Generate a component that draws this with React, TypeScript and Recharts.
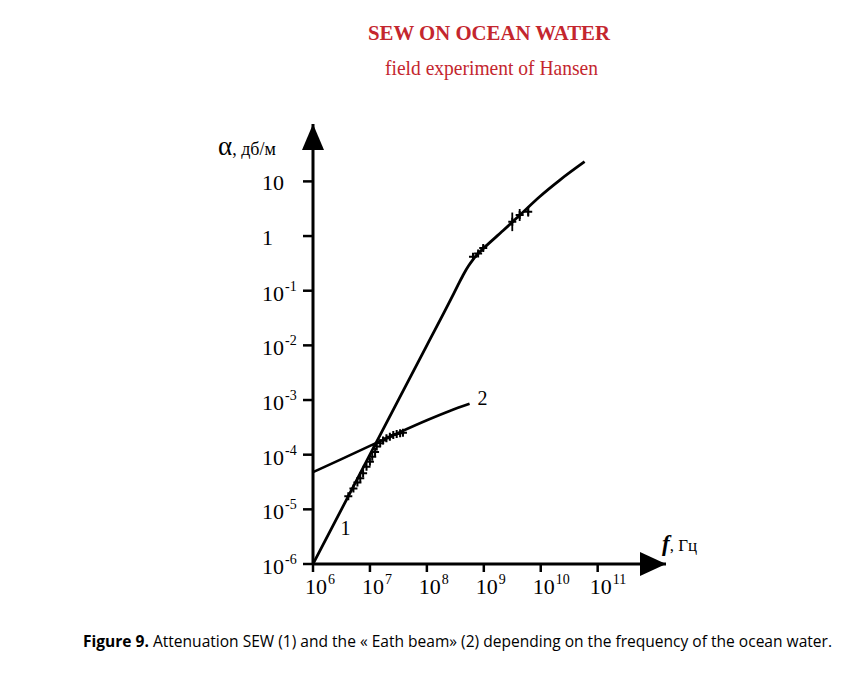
import React from "react";
import {
  ComposedChart,
  Line,
  Scatter,
  XAxis,
  YAxis,
  ErrorBar,
  ReferenceDot,
} from "recharts";

// log10 values
const xTicks = [6, 7, 8, 9, 10, 11];
const yTicks = [-6, -5, -4, -3, -2, -1, 0, 1];

// curve 1: SEW attenuation
const sewF = [6, 7, 8, 8.42, 8.55, 8.65, 8.73, 8.81, 8.9, 9.0, 9.34, 9.63, 9.98, 10.33, 10.77];
const sewA = [-6, -4.0, -2.0, -1.16, -0.89, -0.69, -0.55, -0.43, -0.32, -0.22, 0.1, 0.38, 0.72, 1.02, 1.36];

// curve 2: "Eath beam"
const beamF = [6, 6.5, 7, 7.5, 8, 8.4, 8.75];
const beamA = [-4.32, -4.08, -3.84, -3.6, -3.37, -3.2, -3.07];

// low-frequency measurements (crosses)
const lowF = [6.62, 6.71, 6.78, 6.83, 6.88, 6.94, 7.0, 7.04, 7.09, 7.12, 7.18, 7.23, 7.29, 7.35, 7.41, 7.47, 7.53, 7.58];
const lowA = [-4.76, -4.62, -4.51, -4.43, -4.34, -4.22, -4.13, -4.04, -3.95, -3.85, -3.79, -3.74, -3.7, -3.67, -3.64, -3.62, -3.61, -3.6];

// high-frequency measurements with error bars
const highF = [8.81, 8.9, 8.99, 9.5, 9.63, 9.78];
const highA = [-0.38, -0.32, -0.22, 0.26, 0.385, 0.445];
const highErr = [0.05, 0.05, 0.05, 0.17, 0.11, 0.09];

const sewData = sewF.map((f, i) => ({ f, a: sewA[i] }));
const beamData = beamF.map((f, i) => ({ f, a: beamA[i] }));
const lowData = lowF.map((f, i) => ({ f, a: lowA[i] }));
const highData = highF.map((f, i) => ({ f, a: highA[i], e: highErr[i] }));

const serif = "'Liberation Serif', 'Times New Roman', serif";

function XTick({ x, y, payload }: any) {
  return (
    <g fontFamily={serif} fill="#000">
      <text x={x + 3} y={y + 20} textAnchor="middle" fontSize={22}>
        10
      </text>
      <text x={x + 15} y={y + 10} fontSize={14}>
        {payload.value}
      </text>
    </g>
  );
}

function YTick({ x, y, payload }: any) {
  const v = payload.value;
  const left = x - 39;
  if (v === 0 || v === 1) {
    return (
      <text x={left} y={y + 9} fontFamily={serif} fontSize={22} fill="#000">
        {v === 0 ? "1" : "10"}
      </text>
    );
  }
  return (
    <g fontFamily={serif} fill="#000">
      <text x={left} y={y + 10} fontSize={22}>
        10
      </text>
      <text x={left + 23} y={y} fontSize={14}>
        {`-${-v}`}
      </text>
    </g>
  );
}

function Plus({ cx, cy }: any) {
  return (
    <path
      d={`M${cx - 4},${cy}H${cx + 4}M${cx},${cy - 4}V${cy + 4}`}
      stroke="#000"
      strokeWidth={2}
    />
  );
}

function ArrowRight({ cx, cy }: any) {
  return <path d={`M${cx},${cy}L${cx - 26},${cy - 12}L${cx - 26},${cy + 12}Z`} fill="#000" />;
}

function ArrowUp({ cx, cy }: any) {
  return <path d={`M${cx},${cy}L${cx - 11},${cy + 26}L${cx + 11},${cy + 26}Z`} fill="#000" />;
}

export default function App() {
  return (
    <div style={{ position: "absolute", left: 0, top: 0, width: 858, height: 680, background: "#fff" }}>
      <ComposedChart
        width={858}
        height={680}
        margin={{ top: 124, right: 192, bottom: 76, left: 213 }}
      >
        <XAxis
          type="number"
          dataKey="f"
          domain={[6, 12.2]}
          ticks={xTicks}
          allowDataOverflow
          height={40}
          axisLine={{ stroke: "#000", strokeWidth: 3 }}
          tickLine={{ stroke: "#000", strokeWidth: 2.5 }}
          tickSize={8}
          tickMargin={2}
          tick={<XTick />}
        />
        <YAxis
          type="number"
          domain={[-6, 2.05]}
          ticks={yTicks}
          allowDataOverflow
          width={100}
          axisLine={{ stroke: "#000", strokeWidth: 3 }}
          tickLine={{ stroke: "#000", strokeWidth: 2.5 }}
          tickSize={10}
          tickMargin={2}
          tick={<YTick />}
        />
        <Line
          data={sewData}
          dataKey="a"
          type="monotone"
          stroke="#000"
          strokeWidth={2.8}
          dot={false}
          isAnimationActive={false}
        />
        <Line
          data={beamData}
          dataKey="a"
          type="monotone"
          stroke="#000"
          strokeWidth={2.6}
          dot={false}
          isAnimationActive={false}
        />
        <Scatter data={lowData} dataKey="a" shape={<Plus />} isAnimationActive={false} />
        <Scatter data={highData} dataKey="a" shape={<Plus />} isAnimationActive={false}>
          <ErrorBar dataKey="e" direction="y" width={0} stroke="#000" strokeWidth={1.8} />
        </Scatter>
        <ReferenceDot x={12.2} y={-6} r={0} shape={<ArrowRight />} ifOverflow="visible" />
        <ReferenceDot x={6} y={2.05} r={0} shape={<ArrowUp />} ifOverflow="visible" />
      </ComposedChart>
      <svg
        width={858}
        height={680}
        style={{ position: "absolute", left: 0, top: 0, pointerEvents: "none" }}
      >
        <text x={368} y={40} fontFamily={serif} fontWeight="bold" fontSize={22} fill="#c4262e" textLength={242} lengthAdjust="spacingAndGlyphs">
          SEW ON OCEAN WATER
        </text>
        <text x={385} y={75} fontFamily={serif} fontSize={22} fill="#c4262e" textLength={213} lengthAdjust="spacingAndGlyphs">
          field experiment of Hansen
        </text>
        <text x={218} y={155} fontFamily={serif} fill="#000">
          <tspan fontSize={27}>α</tspan>
          <tspan fontSize={18}>, дб/м</tspan>
        </text>
        <text x={662} y={551} fontFamily={serif} fill="#000">
          <tspan fontSize={23} fontStyle="italic" fontWeight="bold">f</tspan>
          <tspan fontSize={17}>, Гц</tspan>
        </text>
        <text x={345.5} y={535} textAnchor="middle" fontFamily={serif} fontSize={20} fill="#000">
          1
        </text>
        <text x={482.5} y={405} textAnchor="middle" fontFamily={serif} fontSize={20} fill="#000">
          2
        </text>
        <text x={83} y={647} fontFamily="'Open Sans', 'Liberation Sans', sans-serif" fontSize={16} fill="#000" textLength={749} lengthAdjust="spacingAndGlyphs">
          <tspan fontWeight="bold">Figure 9.</tspan>
          <tspan> Attenuation SEW (1) and the « Eath beam» (2) depending on the frequency of the ocean water.</tspan>
        </text>
      </svg>
    </div>
  );
}
